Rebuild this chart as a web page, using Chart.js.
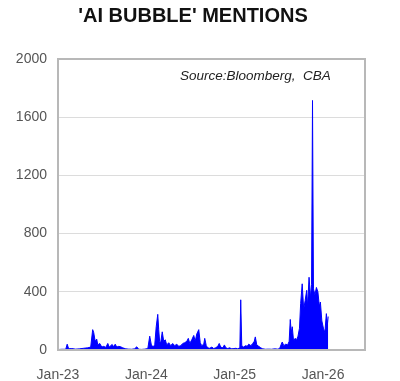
<!DOCTYPE html>
<html>
<head>
<meta charset="utf-8">
<script src="https://cdn.jsdelivr.net/npm/chart.js@4.4.1/dist/chart.umd.min.js"></script>
<style>
  html, body { margin: 0; padding: 0; background: #fff; }
  canvas { display: block; }
</style>
</head>
<body>
<canvas id="myChart" width="400" height="381"></canvas>
<script>
// x position in months since Jan-23, y = number of mentions
const months = [
  0, 0.5, 1.05, 1.25, 1.45, 1.86, 2.4, 2.95, 3.5, 4.04, 4.44, 4.71, 4.85, 5.05, 5.26, 5.4,
  5.67, 5.95, 6.2, 6.5, 6.76, 6.96, 7.16, 7.36, 7.57, 7.77, 7.98, 8.25, 8.52, 8.79, 9.2,
  9.6, 10.0, 10.4, 10.7, 10.96, 11.37, 11.78, 12.2, 12.46, 12.66, 12.87, 13.14, 13.34, 13.55,
  13.68, 13.8, 13.95, 14.16, 14.36, 14.57, 14.77, 15.04, 15.31, 15.58, 15.86, 16.13, 16.4,
  16.67, 16.95, 17.2, 17.5, 17.7, 17.9, 18.17, 18.44, 18.64, 18.85, 19.12, 19.32, 19.52,
  19.8, 19.93, 20.14, 20.34, 20.6, 20.9, 21.15, 21.4, 21.7, 21.9, 22.1, 22.4, 22.6, 22.8,
  23.06, 23.3, 23.6, 23.9, 24.17, 24.4, 24.7, 24.82, 24.96, 25.2, 25.5, 25.7, 25.9, 26.2,
  26.45, 26.66, 26.8, 27.0, 27.27, 27.54, 27.8, 28.2, 28.6, 29.0, 29.44, 29.85, 30.1, 30.33,
  30.46, 30.67, 30.94, 31.2, 31.4, 31.55, 31.68, 31.82, 32.0, 32.2, 32.4, 32.6, 32.8, 32.96,
  33.17, 33.37, 33.57, 33.78, 33.9, 34.1, 34.3, 34.44, 34.57, 34.7, 34.9, 35.1, 35.3, 35.5,
  35.64, 35.84, 36.05, 36.25, 36.45, 36.6, 36.7
];
const mentions = [
  3, 5, 5, 40, 8, 10, 6, 8, 12, 15, 20, 140, 120, 60, 75, 35,
  45, 20, 25, 18, 45, 20, 30, 38, 22, 40, 20, 25, 22, 15, 8,
  6, 5, 8, 22, 5, 4, 6, 10, 95, 40, 20, 35, 160, 245,
  140, 60, 50, 125, 60, 70, 35, 50, 30, 45, 30, 40, 25,
  30, 45, 50, 60, 80, 45, 70, 100, 60, 110, 140, 50, 30,
  40, 80, 30, 15, 12, 20, 10, 15, 25, 45, 20, 15, 35, 15,
  10, 15, 8, 10, 12, 8, 15, 345, 30, 20, 30, 25, 40, 30,
  45, 60, 90, 35, 25, 15, 8, 5, 6, 5, 8, 6, 10, 40,
  55, 30, 40, 35, 60, 210, 120, 160, 60, 80, 70, 95, 150, 320,
  455, 280, 340, 410, 300, 500, 360, 450, 1715, 420, 380, 430, 400, 300,
  330, 200, 150, 120, 250, 180, 230
];
const yTicks = [0, 400, 800, 1200, 1600, 2000];
const xTickMonths = [0, 12, 24, 36];
const xTickLabels = ['Jan-23', 'Jan-24', 'Jan-25', 'Jan-26'];

const textPlugin = {
  id: 'textPlugin',
  afterDraw(chart) {
    const ctx = chart.ctx;
    const area = chart.chartArea;
    ctx.save();
    // plot box
    ctx.strokeStyle = '#b8b8b8';
    ctx.lineWidth = 2;
    ctx.strokeRect(area.left, area.top, area.right - area.left, area.bottom - area.top);
    // title
    ctx.fillStyle = '#111';
    ctx.font = 'bold 20px "Liberation Sans", Arial, sans-serif';
    ctx.textAlign = 'center';
    ctx.textBaseline = 'alphabetic';
    ctx.fillText("'AI BUBBLE' MENTIONS", 193, 22);
    // source note
    ctx.font = 'italic 13.5px "Liberation Sans", Arial, sans-serif';
    ctx.textAlign = 'left';
    ctx.fillStyle = '#222';
    ctx.fillText('Source:Bloomberg,  CBA', 180, 80);
    ctx.restore();
  }
};

const chartConfig = {
  type: 'line',
  data: {
    datasets: [{
      data: months.map((m, i) => ({ x: m, y: mentions[i] })),
      borderColor: '#0000ff',
      backgroundColor: '#0000ff',
      borderWidth: 1,
      pointRadius: 0,
      tension: 0,
      fill: 'origin'
    }]
  },
  options: {
    responsive: false,
    animation: false,
    layout: { padding: { top: 59, right: 35, left: 0, bottom: 0 } },
    plugins: {
      legend: { display: false },
      tooltip: { enabled: false },
      title: { display: false }
    },
    scales: {
      x: {
        type: 'linear',
        min: 0,
        max: 41.7,
        afterBuildTicks: s => { s.ticks = xTickMonths.map(v => ({ value: v })); },
        afterFit: s => { s.height = 31; },
        grid: { display: false },
        border: { display: false },
        ticks: {
          callback: v => xTickLabels[xTickMonths.indexOf(v)],
          color: '#555',
          font: { size: 14, family: '"Liberation Sans", Arial, sans-serif' },
          padding: 9,
          maxRotation: 0,
          autoSkip: false
        }
      },
      y: {
        min: 0,
        max: 2000,
        afterBuildTicks: s => { s.ticks = yTicks.map(v => ({ value: v })); },
        afterFit: s => { s.width = 58; },
        grid: { color: '#dcdcdc', drawTicks: false },
        border: { display: false },
        ticks: {
          callback: v => String(v),
          color: '#555',
          font: { size: 14, family: '"Liberation Sans", Arial, sans-serif' },
          padding: 11
        }
      }
    }
  },
  plugins: [textPlugin]
};

const chartCanvas = document.getElementById('myChart');
const myChart = new Chart(chartCanvas.getContext('2d'), chartConfig);
</script>
</body>
</html>
